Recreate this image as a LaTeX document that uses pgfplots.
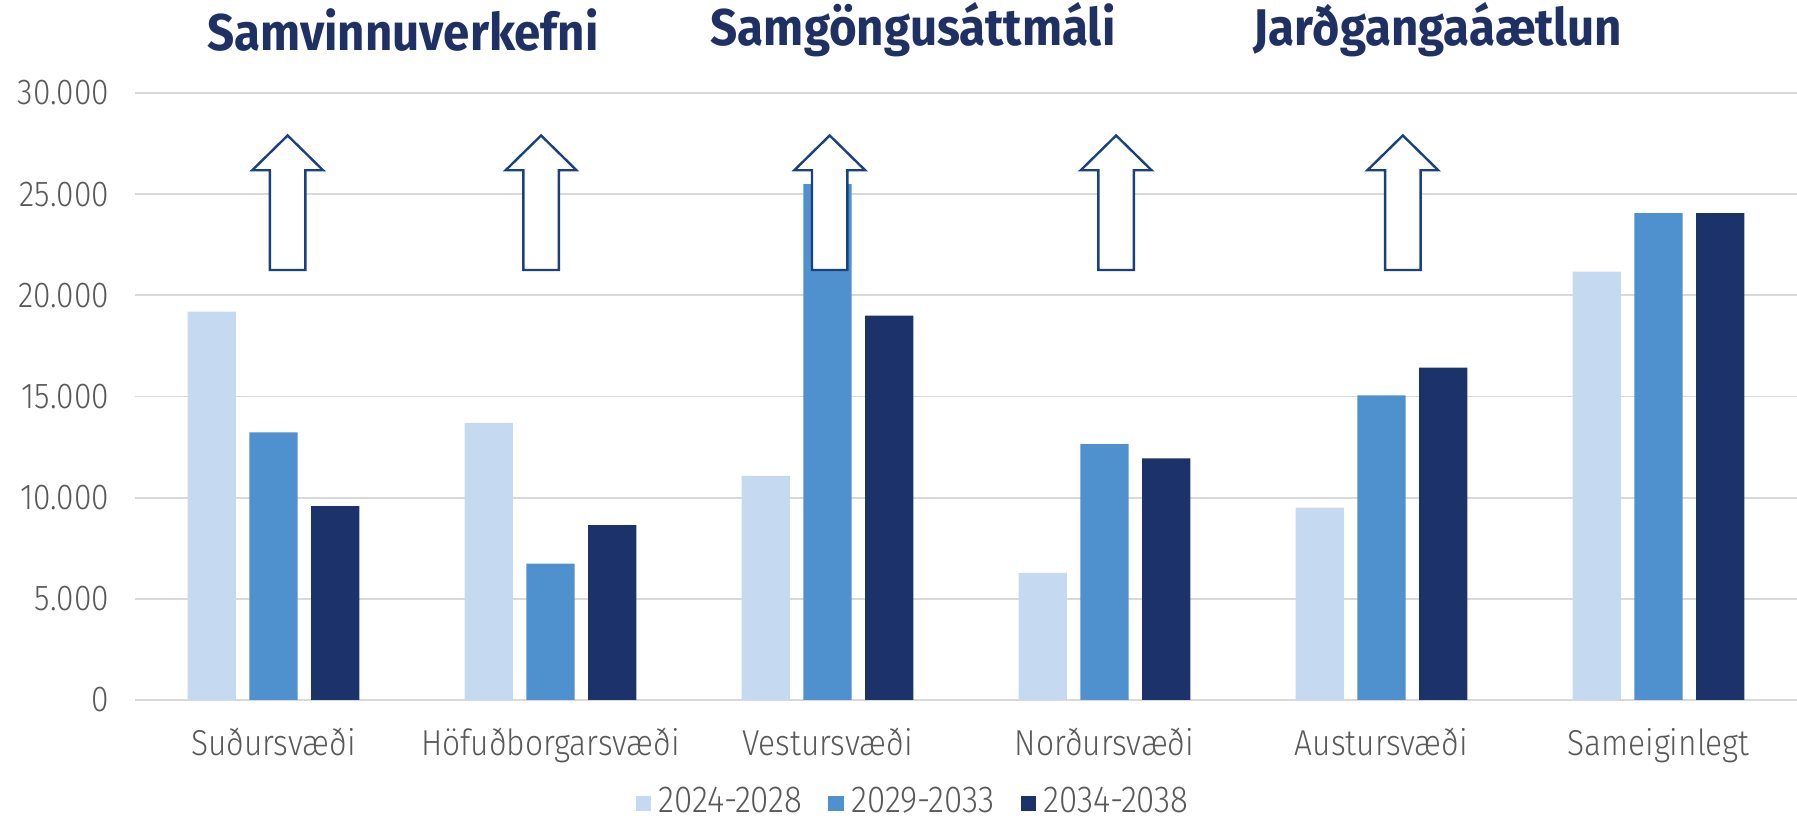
\documentclass[border=0pt]{standalone}
\usepackage{fontspec}
\setmainfont{Fira Sans}[UprightFont=* Light, BoldFont=* Bold, FakeStretch=0.88]
\newfontfamily\titlefont{Fira Sans}[UprightFont=* Bold, FakeStretch=0.92]
\usepackage{pgfplots}
\pgfplotsset{compat=1.18}

\definecolor{clight}{RGB}{197,218,241}
\definecolor{cmid}{RGB}{79,144,206}
\definecolor{cdark}{RGB}{28,50,107}
\definecolor{ctitle}{RGB}{30,48,100}
\definecolor{carrow}{RGB}{25,65,130}
\definecolor{ctick}{RGB}{89,89,89}
\definecolor{cgrid}{RGB}{217,217,217}

\begin{document}
\begin{tikzpicture}
\begin{axis}[
    scale only axis,
    width=415.5pt, height=151.75pt,
    xmin=-0.5, xmax=5.5, ymin=0, ymax=30000,
    axis line style={draw=none},
    major tick length=0pt,
    ytick={0,5000,10000,15000,20000,25000,30000},
    scaled y ticks=false,
    yticklabel={\pgfmathprintnumber[assume math mode=true, 1000 sep={.}]{\tick}},
    ymajorgrids,
    grid style={cgrid, line width=0.45pt},
    xtick={0,1,2,3,4,5},
    xticklabels={Suðursvæði, Höfuðborgarsvæði, Vestursvæði, Norðursvæði, Austursvæði, Sameiginlegt},
    yticklabel style={font=\fontsize{9}{10}\selectfont, text=ctick, xshift=-3pt},
    xticklabel style={font=\fontsize{9}{10}\selectfont, text=ctick, yshift=-3.5pt},
    clip=false,
    legend columns=3,
    legend style={draw=none, fill=none, at={(0.47,-0.17)}, anchor=center,
        font=\fontsize{9.4}{11}\selectfont, text=ctick,
        /tikz/every even column/.append style={column sep=4.5pt},
        inner sep=0pt},
    legend image code/.code={\fill[#1] (0pt,-1.9pt) rectangle (3.8pt,1.9pt);},
]

% 2024-2028
\addplot[ybar, bar width=0.174, bar shift=-0.223, fill=clight, draw=none]
    coordinates {(0,19200) (1,13700) (2,11080) (3,6280) (4,9510) (5,21170)};
% 2029-2033
\addplot[ybar, bar width=0.174, bar shift=0, fill=cmid, draw=none]
    coordinates {(0,13230) (1,6740) (2,25500) (3,12640) (4,15050) (5,24060)};
% 2034-2038
\addplot[ybar, bar width=0.174, bar shift=0.223, fill=cdark, draw=none]
    coordinates {(0,9580) (1,8640) (2,19000) (3,11940) (4,16430) (5,24060)};

\legend{2024-2028, 2029-2033, 2034-2038}

% hollow up arrows
\pgfplotsinvokeforeach{0.051,0.966,2.008,3.042,4.077}{
  \draw[carrow, line width=0.6pt, fill=white, line join=miter]
    (axis cs:#1,27900)
    -- ++(axis direction cs:0.128,-1720)
    -- ++(axis direction cs:-0.064,0)
    -- ++(axis direction cs:0,-4930)
    -- ++(axis direction cs:-0.128,0)
    -- ++(axis direction cs:0,4930)
    -- ++(axis direction cs:-0.064,0) -- cycle;
}

% headings
\node[font=\titlefont\fontsize{12.9}{14}\selectfont, text=ctitle] at (axis cs:0.467,33114) {Samvinnuverkefni};
\node[font=\titlefont\fontsize{12.9}{14}\selectfont, text=ctitle] at (axis cs:2.309,33114) {Samgöngusáttmáli};
\node[font=\titlefont\fontsize{12.9}{14}\selectfont, text=ctitle] at (axis cs:4.204,33114) {Jarðgangaáætlun};
\end{axis}
\pgfresetboundingbox
\path (current axis.south west) ++(-33.75pt,-30.5pt) coordinate (bbA);
\path (current axis.north east) ++(0,23.25pt) coordinate (bbB);
\useasboundingbox (bbA) rectangle (bbB);
\end{tikzpicture}
\end{document}
